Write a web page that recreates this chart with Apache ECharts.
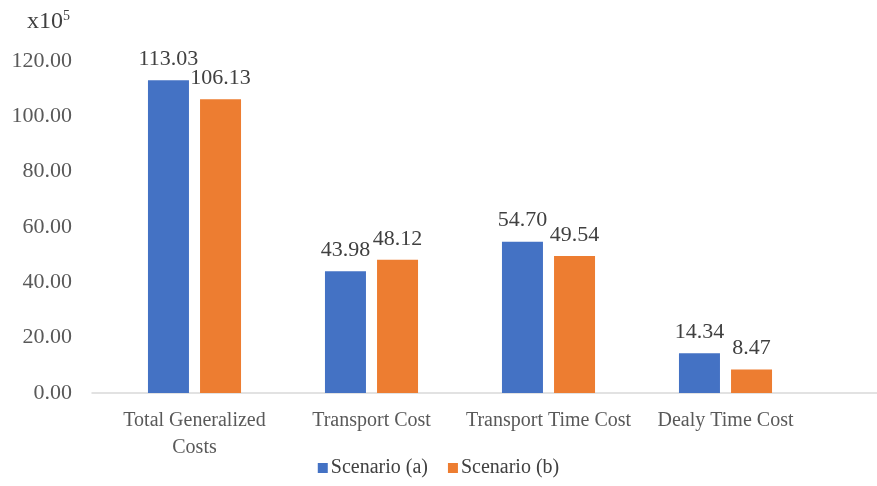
<!DOCTYPE html>
<html><head><meta charset="utf-8">
<script src="https://cdn.jsdelivr.net/npm/echarts@6/dist/echarts.min.js"></script>
<style>html,body{margin:0;padding:0;background:#fff}#c{width:877px;height:486px}</style>
</head><body><div id="c"></div>
<script>
const categories = ['Total Generalized\nCosts', 'Transport Cost', 'Transport Time Cost', 'Dealy Time Cost'];
const scenarioA = [113.03, 43.98, 54.70, 14.34];
const scenarioB = [106.13, 48.12, 49.54, 8.47];
const seriesNames = ['Scenario (a)', 'Scenario (b)'];
const yTicks = {min: 0, max: 120, interval: 20};

const FONT = '"Liberation Serif", "Times New Roman", serif';
const chart = echarts.init(document.getElementById('c'));
const lbl = {show: true, position: 'top', distance: 10, color: '#404040', fontFamily: FONT, fontSize: 22,
  formatter: p => p.value.toFixed(2)};
chart.setOption({
  animation: false,
  textStyle: {fontFamily: FONT},
  graphic: [{type: 'text', left: 27, top: 9, style: {
    text: 'x10{s|5}', font: '24px ' + FONT, fill: '#404040',
    rich: {s: {fontSize: 14, fontFamily: FONT, fill: '#404040', verticalAlign: 'top', padding: [0,0,12,0]}}
  }}],
  legend: {bottom: 3, left: 'center', itemWidth: 10, itemHeight: 10, itemGap: 20, icon: 'rect',
    textStyle: {fontFamily: FONT, fontSize: 20, color: '#404040', padding: [0,0,0,-2]}, data: seriesNames},
  grid: [
    {left: 106, right: 63, top: 61, bottom: 93},
    {left: 92, right: 0, top: 61, bottom: 93}
  ],
  xAxis: [
    {type: 'category', gridIndex: 0, data: categories,
      axisLine: {show: false}, axisTick: {show: false},
      axisLabel: {margin: 14, color: '#595959', fontFamily: FONT, fontSize: 20, lineHeight: 27, interval: 0}},
    {type: 'value', gridIndex: 1, min: 0, max: 1, axisLine: {show: true, lineStyle: {color: '#d9d9d9', width: 1.5}},
      axisTick: {show: false}, axisLabel: {show: false}, splitLine: {show: false}}
  ],
  yAxis: [
    {type: 'value', gridIndex: 0, min: yTicks.min, max: yTicks.max, interval: yTicks.interval,
      axisLine: {show: false}, axisTick: {show: false}, splitLine: {show: false},
      axisLabel: {margin: 34, color: '#595959', fontFamily: FONT, fontSize: 22, formatter: v => v.toFixed(2)}},
    {type: 'value', gridIndex: 1, show: false, min: 0, max: 1}
  ],
  series: [
    {name: seriesNames[0], type: 'bar', data: scenarioA, barWidth: 41, barGap: '27%',
      itemStyle: {color: '#4472C4'}, label: lbl},
    {name: seriesNames[1], type: 'bar', data: scenarioB, barWidth: 41, barGap: '27%',
      itemStyle: {color: '#ED7D31'}, label: lbl}
  ]
});
</script></body></html>
